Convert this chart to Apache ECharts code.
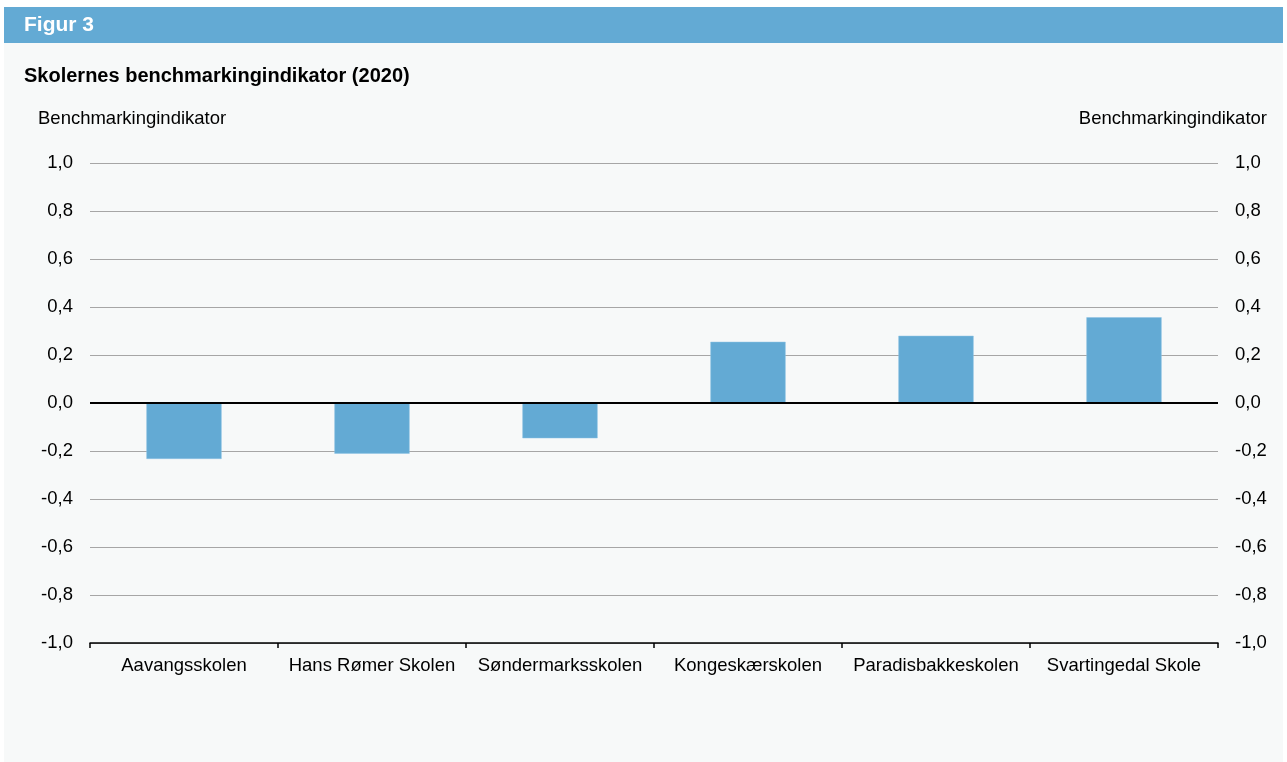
<!DOCTYPE html>
<html>
<head>
<meta charset="utf-8">
<script src="https://cdn.jsdelivr.net/npm/echarts@6/dist/echarts.min.js"></script>
<style>html,body{margin:0;padding:0;background:#fff;}#c{width:1287px;height:762px;}</style>
</head>
<body>
<div id="c"></div>
<script>
const categories = ["Aavangsskolen", "Hans Rømer Skolen", "Søndermarksskolen", "Kongeskærskolen", "Paradisbakkeskolen", "Svartingedal Skole"];
const values = [-0.233, -0.211, -0.147, 0.255, 0.28, 0.357];
const axisName = "Benchmarkingindikator";
const figTitle = "Figur 3";
const chartTitle = "Skolernes benchmarkingindikator (2020)";

const FONT = '"Liberation Sans", Arial, sans-serif';
const FS = 18.5;
const fmt = v => v.toFixed(1).replace('.', ',');
const chart = echarts.init(document.getElementById('c'), null, {renderer: 'canvas'});
chart.setOption({
  backgroundColor: '#ffffff',
  animation: false,
  textStyle: {fontFamily: FONT},
  graphic: [
    {type: 'rect', z: -10, shape: {x: 4, y: 43, width: 1279, height: 719}, style: {fill: '#f7f9f9'}},
    {type: 'rect', z: -10, shape: {x: 4, y: 7, width: 1279, height: 36}, style: {fill: '#63aad4'}},
    {type: 'text', left: 38, top: 109, style: {text: axisName, font: FS + 'px ' + FONT, fill: '#000'}},
    {type: 'text', right: 20, top: 109, style: {text: axisName, font: FS + 'px ' + FONT, fill: '#000', align: 'right'}}
  ],
  title: [
    {text: figTitle, left: 24, top: 15, padding: 0, textStyle: {color: '#fff', fontSize: 21, fontWeight: 'bold', fontFamily: FONT}},
    {text: chartTitle, left: 24, top: 66, padding: 0, textStyle: {color: '#000', fontSize: 20, fontWeight: 'bold', fontFamily: FONT}}
  ],
  grid: {left: 90, right: 69, top: 163, bottom: 119, containLabel: false},
  xAxis: {
    type: 'category',
    data: categories,
    boundaryGap: true,
    axisLine: {onZero: false, lineStyle: {color: '#000', width: 1.5}},
    axisTick: {show: true, interval: 0, length: 5, lineStyle: {color: '#000', width: 1.5}},
    axisLabel: {interval: 0, margin: 13, color: '#000', fontSize: FS, fontFamily: FONT},
    splitLine: {show: false}
  },
  yAxis: [
    {
      type: 'value', min: -1, max: 1, interval: 0.2, position: 'left',
      axisLine: {show: false}, axisTick: {show: false},
      axisLabel: {formatter: fmt, margin: 17, padding: [5, 0, 0, 0], color: '#000', fontSize: FS, fontFamily: FONT},
      splitLine: {show: true, lineStyle: {color: '#a6a6a6', width: 1}}
    },
    {
      type: 'value', min: -1, max: 1, interval: 0.2, position: 'right',
      axisLine: {show: false}, axisTick: {show: false},
      axisLabel: {formatter: fmt, margin: 17, padding: [5, 0, 0, 0], color: '#000', fontSize: FS, fontFamily: FONT},
      splitLine: {show: false}
    }
  ],
  series: [{
    type: 'bar',
    data: values,
    barWidth: '40%',
    itemStyle: {color: '#63aad4', borderColor: '#8cc3e4', borderWidth: 0.5},
    markLine: {
      silent: true, symbol: 'none', label: {show: false},
      lineStyle: {color: '#000', width: 2, type: 'solid'},
      data: [{yAxis: 0}],
      z: 5
    }
  }]
});
</script>
</body>
</html>
